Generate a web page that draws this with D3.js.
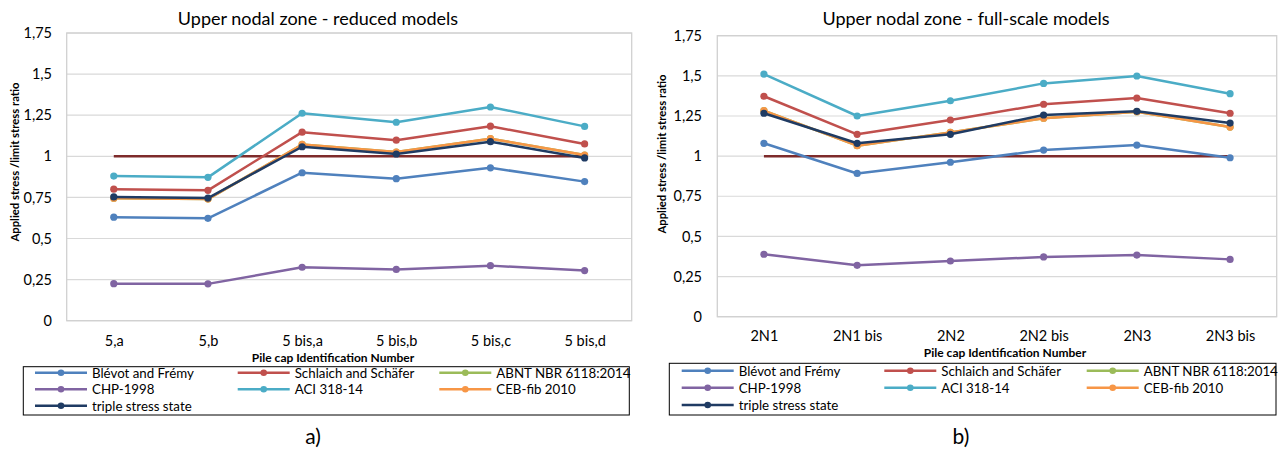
<!DOCTYPE html>
<html>
<head>
<meta charset="utf-8">
<script src="https://cdn.jsdelivr.net/npm/d3@7"></script>
<style>
  html, body { margin: 0; padding: 0; background: #fff; }
  svg { display: block; }
  text { font-family: Lato, "Open Sans", sans-serif; fill: #000; }
</style>
</head>
<body>
<svg id="chart" width="1281" height="450"></svg>
<script>
// ---------- DATA ----------
const titleA = "Upper nodal zone - reduced models";
const titleB = "Upper nodal zone - full-scale models";
const yAxisTitle = "Applied stress /limit stress ratio";
const xAxisTitle = "Pile cap Identification Number";
const yTicks = [0, 0.25, 0.5, 0.75, 1, 1.25, 1.5, 1.75];
const yTickLabels = ["0", "0,25", "0,5", "0,75", "1", "1,25", "1,5", "1,75"];

const catsA = ["5,a", "5,b", "5 bis,a", "5 bis,b", "5 bis,c", "5 bis,d"];
const catsB = ["2N1", "2N1 bis", "2N2", "2N2 bis", "2N3", "2N3 bis"];

const seriesNames = ["Blévot and Frémy", "Schlaich and Schäfer", "ABNT NBR 6118:2014",
                     "CHP-1998", "ACI 318-14", "CEB-fib 2010", "triple stress state"];

// reduced models (a)
const blevotA   = [0.63, 0.623, 0.90, 0.864, 0.93, 0.846];
const schlaichA = [0.80, 0.793, 1.147, 1.098, 1.183, 1.075];
const abntA     = [0.745, 0.74, 1.072, 1.026, 1.107, 1.008];
const chpA      = [0.225, 0.224, 0.325, 0.312, 0.335, 0.305];
const aciA      = [0.88, 0.872, 1.262, 1.207, 1.30, 1.182];
const cebA      = [0.745, 0.74, 1.072, 1.026, 1.107, 1.008];
const tripleA   = [0.753, 0.746, 1.058, 1.014, 1.089, 0.99];
const limitA    = [1, 1, 1, 1, 1, 1];

// full-scale models (b)
const blevotB   = [1.08, 0.892, 0.962, 1.038, 1.069, 0.99];
const schlaichB = [1.373, 1.136, 1.225, 1.323, 1.362, 1.267];
const abntB     = [1.283, 1.065, 1.148, 1.236, 1.277, 1.181];
const chpB      = [0.389, 0.32, 0.347, 0.372, 0.384, 0.357];
const aciB      = [1.511, 1.25, 1.345, 1.453, 1.499, 1.389];
const cebB      = [1.283, 1.065, 1.148, 1.236, 1.277, 1.181];
const tripleB   = [1.267, 1.08, 1.136, 1.256, 1.279, 1.206];
const limitB    = [1, 1, 1, 1, 1, 1];

// ---------- STYLE ----------
const colors = ["#4F81BD", "#C0504D", "#9BBB59", "#8064A2", "#4BACC6", "#F79646", "#1F3B63"];
const limitColor = "#7E2B2B";

const svg = d3.select("#chart");

function drawChart(o) {
  const g = svg.append("g");
  const x = d3.scalePoint().domain(o.cats).range([o.left, o.right]).padding(0.5);
  const y = d3.scaleLinear().domain([0, 1.75]).range([o.bottom, o.top]);

  // gridlines
  g.append("g").selectAll("line").data(yTicks).join("line")
    .attr("x1", o.left).attr("x2", o.right)
    .attr("y1", d => y(d)).attr("y2", d => y(d))
    .attr("stroke", "#D9D9D9").attr("stroke-width", 1.2);
  // frame
  g.append("rect").attr("x", o.left).attr("y", o.top)
    .attr("width", o.right - o.left).attr("height", o.bottom - o.top)
    .attr("fill", "none").attr("stroke", "#D0D0D0").attr("stroke-width", 1.3);

  // y axis labels
  const yAxis = d3.axisLeft(y).tickValues(yTicks)
    .tickFormat((d, i) => yTickLabels[i]).tickSize(0).tickPadding(0);
  const ya = g.append("g").attr("transform", `translate(${o.yLabelX},0)`).call(yAxis);
  ya.select(".domain").remove();
  ya.selectAll("text").attr("font-family", "Lato, sans-serif").attr("font-size", 14.5).attr("fill", "#000");

  // x axis labels
  const xAxis = d3.axisBottom(x).tickSize(0).tickPadding(0);
  const xa = g.append("g").attr("transform", `translate(0,${o.xLabelY})`).call(xAxis);
  xa.select(".domain").remove();
  xa.selectAll("text").attr("font-family", "Lato, sans-serif").attr("font-size", 14.5).attr("fill", "#000");

  // titles
  g.append("text").attr("x", o.titleX).attr("y", 25).attr("text-anchor", "middle")
    .attr("font-size", 18).text(o.title);
  g.append("text").attr("transform", `translate(${o.yTitleX},${o.yTitleY}) rotate(-90)`)
    .attr("text-anchor", "middle").attr("font-size", 11.3).attr("font-weight", "bold")
    .text(yAxisTitle);
  g.append("text").attr("x", o.xTitleX).attr("y", o.xTitleY).attr("text-anchor", "middle")
    .attr("font-size", 12).attr("font-weight", "bold").text(xAxisTitle);

  const line = d3.line().x((d, i) => x(o.cats[i])).y(d => y(d));

  // limit line
  g.append("path").datum(o.limit).attr("d", line)
    .attr("fill", "none").attr("stroke", limitColor).attr("stroke-width", 2.5);

  // series
  o.series.forEach((vals, si) => {
    const sg = g.append("g");
    sg.append("path").datum(vals).attr("d", line)
      .attr("fill", "none").attr("stroke", colors[si]).attr("stroke-width", 2.5)
      .attr("stroke-linejoin", "round");
    sg.selectAll("circle").data(vals).join("circle")
      .attr("cx", (d, i) => x(o.cats[i])).attr("cy", d => y(d)).attr("r", 3.6)
      .attr("fill", colors[si]);
  });

  // legend
  const L = o.legend;
  g.append("rect").attr("x", L.x0).attr("y", L.y0).attr("width", L.x1 - L.x0).attr("height", L.y1 - L.y0)
    .attr("fill", "#fff").attr("stroke", "#000").attr("stroke-width", 1);
  seriesNames.forEach((name, i) => {
    const col = i % 3, row = Math.floor(i / 3);
    const lx = L.cols[col], ly = L.rows[row];
    const lg = g.append("g");
    lg.append("line").attr("x1", lx).attr("x2", lx + 52).attr("y1", ly).attr("y2", ly)
      .attr("stroke", colors[i]).attr("stroke-width", 2.5);
    lg.append("circle").attr("cx", lx + 26).attr("cy", ly).attr("r", 3.3).attr("fill", colors[i]);
    lg.append("text").attr("x", lx + 57).attr("y", ly + 5).attr("font-size", 13.3).text(name);
  });

  // panel label
  g.append("text").attr("x", o.panelX).attr("y", 444).attr("text-anchor", "middle")
    .attr("font-size", 21).text(o.panel);
}

drawChart({
  cats: catsA, title: titleA, panel: "a)",
  series: [blevotA, schlaichA, abntA, chpA, aciA, cebA, tripleA], limit: limitA,
  left: 66.7, right: 631.7, top: 33, bottom: 320.7,
  yLabelX: 52, xLabelY: 336, titleX: 318, yTitleX: 19, yTitleY: 162,
  xTitleX: 333, xTitleY: 362,
  legend: { x0: 23.3, y0: 366.7, x1: 629.3, y1: 415, cols: [35, 237.7, 439.3], rows: [372.7, 389.3, 405.7] },
  panelX: 313
});

drawChart({
  cats: catsB, title: titleB, panel: "b)",
  series: [blevotB, schlaichB, abntB, chpB, aciB, cebB, tripleB], limit: limitB,
  left: 717.3, right: 1276.7, top: 35.7, bottom: 316.7,
  yLabelX: 702, xLabelY: 331, titleX: 966, yTitleX: 666, yTitleY: 154,
  xTitleX: 1005, xTitleY: 357,
  legend: { x0: 669.3, y0: 363.3, x1: 1276, y1: 415, cols: [681.7, 884.3, 1086.7], rows: [370.7, 387.7, 405] },
  panelX: 961
});
</script>
</body>
</html>
